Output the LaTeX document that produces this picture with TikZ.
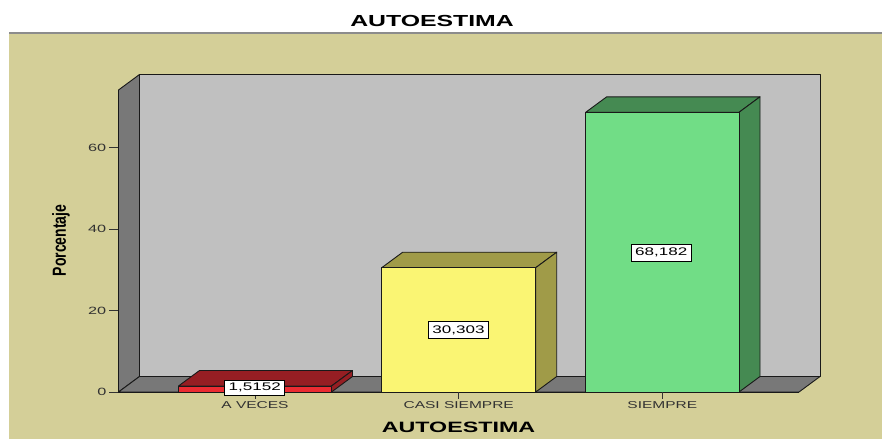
\documentclass[tikz,border=0pt]{standalone}
\usepackage{fontspec}
\setmainfont{Liberation Sans}
\usepackage{graphicx}
\newcommand\stretchx[1]{\scalebox{1.55}[1]{#1}}
\newcommand\stretchy[1]{\scalebox{1}[1.35]{#1}}
\definecolor{tanbg}{RGB}{212,207,152}
\definecolor{wallgray}{RGB}{192,192,192}
\definecolor{sidegray}{RGB}{120,120,120}
\definecolor{redfront}{RGB}{236,44,50}
\definecolor{redtop}{RGB}{150,30,35}
\definecolor{yelfront}{RGB}{250,245,115}
\definecolor{yelside}{RGB}{160,155,72}
\definecolor{grnfront}{RGB}{113,221,134}
\definecolor{grnside}{RGB}{69,138,82}
\definecolor{txtgray}{RGB}{50,50,50}
\begin{document}
\begin{tikzpicture}[x=1pt,y=-1pt,
  outline/.style={draw=black!90, line width=0.9pt, line join=round},
  ticklabel/.style={text=txtgray, font=\fontsize{10.5}{12}\selectfont, inner sep=0pt},
  catlabel/.style={text=txtgray, font=\fontsize{10}{12}\selectfont, inner sep=0pt},
  valbox/.style={draw=black, fill=white, line width=0.8pt, inner sep=1pt, minimum width=60pt, minimum height=17pt, font=\fontsize{11}{13}\selectfont},
  tickline/.style={draw=txtgray, line width=0.9pt}]
\path[use as bounding box] (0,0) rectangle (882,439);
% background
\fill[white] (0,0) rectangle (882,439);
\fill[tanbg] (9,33) rectangle (882,439);
\draw[gray!90, line width=1.6pt] (9,33) -- (882,33);
% title
\node[font=\bfseries\fontsize{16}{18}\selectfont] (title) at (432,21) {\stretchx{AUTOESTIMA}};
% walls
\path[outline, fill=wallgray] (139.5,74.5) rectangle (820,376.5);
\path[outline, fill=sidegray] (118.5,90) -- (139.5,74.5) -- (139.5,376.5) -- (118.5,392) -- cycle;
\path[outline, fill=sidegray] (118.5,392) -- (799,392) -- (820,376.5) -- (139.5,376.5) -- cycle;
% y ticks
\foreach \v/\yy in {0/392,20/310.7,40/229.3,60/147.7}{
  \draw[tickline] (109,\yy) -- (118.5,\yy);
  \node[ticklabel, anchor=east] (yt\v) at (106.5,\yy) {\stretchx{\v}};
}
% bars: red
\path[outline, fill=redtop] (178.5,386) -- (199.5,370.5) -- (352.5,370.5) -- (331.5,386) -- cycle;
\path[outline, fill=redtop] (331.5,386) -- (352.5,370.5) -- (352.5,376.5) -- (331.5,392) -- cycle;
\path[outline, fill=redfront] (178.5,386) rectangle (331.5,392);
% yellow
\path[outline, fill=yelside] (381.7,267.7) -- (402.7,252.2) -- (556.7,252.2) -- (535.7,267.7) -- cycle;
\path[outline, fill=yelside] (535.7,267.7) -- (556.7,252.2) -- (556.7,376.5) -- (535.7,392) -- cycle;
\path[outline, fill=yelfront] (381.7,267.7) rectangle (535.7,392);
% green
\path[outline, fill=grnside] (585.7,112.3) -- (606.7,96.8) -- (760,96.8) -- (739,112.3) -- cycle;
\path[outline, fill=grnside] (739,112.3) -- (760,96.8) -- (760,376.5) -- (739,392) -- cycle;
\path[outline, fill=grnfront] (585.7,112.3) rectangle (739,392);
% front axis line
\draw[outline] (118.5,90) -- (118.5,392) -- (799,392);
% category ticks and labels
\foreach \cx in {255,458.7,662.3}{
  \draw[tickline] (\cx,392) -- (\cx,398.5);
}
\node[catlabel] (ca) at (255,405.5) {\stretchx{A VECES}};
\node[catlabel] (cb) at (458.7,405.5) {\stretchx{CASI SIEMPRE}};
\node[catlabel] (cc) at (662.3,405.5) {\stretchx{SIEMPRE}};
% value labels
\node[valbox, minimum height=15pt] (va) at (254.7,387.8) {\stretchx{1,5152}};
\node[valbox] (vb) at (458.5,330) {\stretchx{30,303}};
\node[valbox] (vc) at (661.2,252.5) {\stretchx{68,182}};
% axis titles
\node[font=\bfseries\fontsize{15}{17}\selectfont] (xtitle) at (458.5,427) {\stretchx{AUTOESTIMA}};
\node[font=\bfseries\fontsize{14}{16}\selectfont, rotate=90] (ytitle) at (61,240.5) {\stretchy{Porcentaje}};
\end{tikzpicture}
\end{document}
